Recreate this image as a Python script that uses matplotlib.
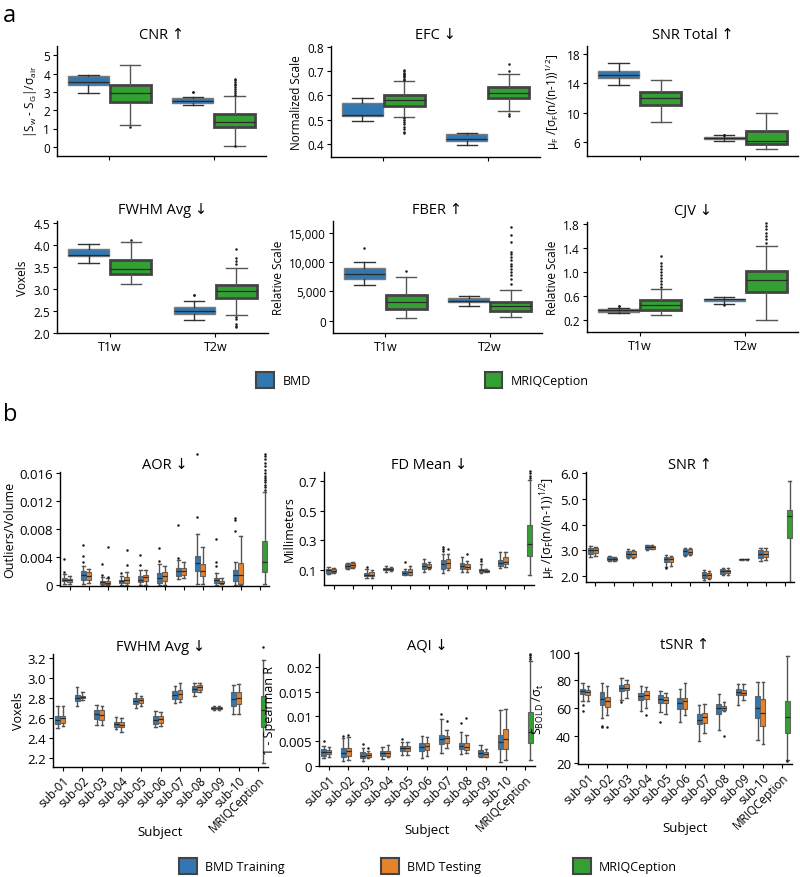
import matplotlib
matplotlib.use("Agg")
import matplotlib.pyplot as plt
from matplotlib.patches import Patch

plt.rcParams['font.family'] = ['Open Sans', 'DejaVu Sans']
plt.rcParams['mathtext.default'] = 'regular'
plt.rcParams['axes.linewidth'] = 1.0

BLUE = '#3178b2'
ORANGE = '#e5832d'
GREEN = '#34a034'

# ---------------- panel a data: [whislo, q1, median, q3, whishi] for T1w, T2w
seq = ['T1w', 'T2w']

cnr_bmd = [[2.93, 3.37, 3.52, 3.84, 3.91], [2.3, 2.39, 2.52, 2.65, 2.72]]
cnr_mriqc = [[1.21, 2.46, 2.92, 3.37, 4.47], [0.07, 1.07, 1.34, 1.79, 2.75]]
cnr_bmd_out = [[], [3.0, 3.0]]
cnr_mriqc_out = [[1.1], [2.85, 2.95, 3.05, 3.15, 3.25, 3.35, 3.45, 3.55, 3.65, 3.7, 0.02]]

efc_bmd = [[0.496, 0.513, 0.521, 0.569, 0.59], [0.396, 0.41, 0.418, 0.441, 0.445]]
efc_mriqc = [[0.51, 0.558, 0.583, 0.602, 0.659], [0.535, 0.589, 0.611, 0.634, 0.691]]
efc_bmd_out = [[], []]
efc_mriqc_out = [[0.665, 0.67, 0.675, 0.68, 0.685, 0.69, 0.695, 0.70, 0.707,
                  0.505, 0.50, 0.49, 0.48, 0.47, 0.46, 0.45, 0.445],
                 [0.731, 0.70, 0.525, 0.515]]

snrt_bmd = [[13.76, 14.67, 15.13, 15.63, 16.73], [6.1, 6.37, 6.5, 6.74, 6.9]]
snrt_mriqc = [[8.79, 11.07, 11.98, 12.76, 14.48], [5.0, 5.78, 6.14, 7.5, 9.97]]
snrt_bmd_out = [[], [6.95, 7.0]]
snrt_mriqc_out = [[], []]

fwhm_bmd = [[3.6, 3.75, 3.77, 3.91, 4.03], [2.28, 2.43, 2.5, 2.59, 2.72]]
fwhm_mriqc = [[3.1, 3.35, 3.45, 3.67, 4.06], [2.41, 2.78, 2.94, 3.08, 3.48]]
fwhm_bmd_out = [[], [2.86, 2.86]]
fwhm_mriqc_out = [[4.12], [3.56, 3.63, 3.7, 3.9, 2.35, 2.3, 2.2, 2.15, 2.12]]

fber_bmd = [[6114, 7143, 8000, 8971, 10000], [2571, 3143, 3428, 3828, 4285]]
fber_mriqc = [[400, 2000, 3143, 4457, 7428], [686, 1714, 2457, 3257, 5314]]
fber_bmd_out = [[12457], []]
fber_mriqc_out = [[8400], [6286, 7143, 7714, 8286, 8857, 9314, 9714, 10286,
                           10857, 11428, 11714, 13428, 14571, 16000]]

cjv_bmd = [[0.32, 0.338, 0.36, 0.388, 0.4], [0.47, 0.516, 0.543, 0.554, 0.588]]
cjv_mriqc = [[0.283, 0.366, 0.444, 0.53, 0.72], [0.194, 0.67, 0.859, 1.014, 1.43]]
cjv_bmd_out = [[0.44, 0.44], [0.45]]
cjv_mriqc_out = [[0.75, 0.8, 0.85, 0.9, 0.95, 1.0, 1.05, 1.1, 1.15, 1.26],
                 [1.48, 1.54, 1.6, 1.65, 1.71, 1.76, 1.82]]

# ---------------- panel b data: per subject [whislo, q1, median, q3, whishi]
subjects = ['sub-01', 'sub-02', 'sub-03', 'sub-04', 'sub-05', 'sub-06',
            'sub-07', 'sub-08', 'sub-09', 'sub-10', 'MRIQCeption']

aor_train = [[0.0002, 0.00058, 0.0008, 0.00105, 0.0016], [0.0002, 0.0008, 0.0015, 0.002, 0.0028],
             [0.0001, 0.00024, 0.00043, 0.00058, 0.0012], [0.0001, 0.00034, 0.00058, 0.0008, 0.0014],
             [0.0001, 0.00043, 0.0008, 0.0013, 0.0022], [0.0001, 0.0004, 0.001, 0.0018, 0.003],
             [0.0009, 0.0014, 0.002, 0.0025, 0.0036], [0.0002, 0.002, 0.0032, 0.0042, 0.0073],
             [0.0001, 0.00034, 0.0007, 0.00105, 0.0018], [0.0001, 0.0006, 0.0015, 0.0022, 0.0033]]
aor_test = [[0.0002, 0.00043, 0.0007, 0.0009, 0.0014], [0.0003, 0.0008, 0.0014, 0.0019, 0.0024],
            [0.0001, 0.0002, 0.0003, 0.00058, 0.001], [0.0001, 0.00034, 0.0008, 0.0012, 0.0019],
            [0.0001, 0.0006, 0.0012, 0.0015, 0.0022], [0.0001, 0.0006, 0.0013, 0.0019, 0.0028],
            [0.001, 0.0015, 0.002, 0.0025, 0.0033], [0.0002, 0.0013, 0.002, 0.003, 0.0055],
            [0.0002, 0.0003, 0.0004, 0.00058, 0.001], [0.0, 0.00024, 0.0015, 0.0032, 0.007]]
aor_mriqc = [0.00024, 0.0019, 0.0034, 0.0064, 0.0133]
aor_train_out = [[0.0019, 0.0038], [0.0033, 0.0042, 0.0058], [0.0015, 0.0031], [0.0017],
                 [0.0029, 0.0044], [0.0035, 0.0053], [0.0039, 0.0086], [0.0098, 0.0188],
                 [0.0027, 0.0033, 0.0066], [0.0078, 0.0094, 0.0096]]
aor_test_out = [[], [], [0.0012, 0.0055], [0.0029, 0.005], [], [], [], [], [], []]
aor_mriqc_out = [0.0136, 0.014, 0.0143, 0.0147, 0.015, 0.0153, 0.0156, 0.016,
                 0.0165, 0.017, 0.0175, 0.018, 0.0185, 0.0188]

fd_train = [[0.075, 0.082, 0.098, 0.109, 0.12], [0.11, 0.116, 0.127, 0.138, 0.15],
            [0.05, 0.059, 0.07, 0.082, 0.105], [0.09, 0.098, 0.105, 0.116, 0.125],
            [0.065, 0.07, 0.082, 0.093, 0.11], [0.09, 0.105, 0.127, 0.145, 0.175],
            [0.08, 0.109, 0.138, 0.168, 0.21], [0.085, 0.105, 0.127, 0.15, 0.19],
            [0.08, 0.086, 0.098, 0.105, 0.14], [0.115, 0.127, 0.145, 0.168, 0.22]]
fd_test = [[0.078, 0.085, 0.095, 0.105, 0.115], [0.115, 0.123, 0.134, 0.145, 0.155],
           [0.05, 0.059, 0.07, 0.086, 0.1], [0.092, 0.1, 0.106, 0.114, 0.122],
           [0.065, 0.07, 0.086, 0.105, 0.13], [0.105, 0.116, 0.123, 0.138, 0.155],
           [0.1, 0.116, 0.145, 0.177, 0.21], [0.09, 0.105, 0.123, 0.138, 0.16],
           [0.085, 0.09, 0.093, 0.1, 0.105], [0.12, 0.138, 0.155, 0.19, 0.22]]
fd_mriqc = [0.07, 0.195, 0.279, 0.404, 0.705]
fd_train_out = [[], [], [0.12], [], [0.155], [], [0.23, 0.245, 0.256], [], [0.16, 0.175], []]
fd_test_out = [[], [], [], [], [], [], [0.245], [0.21], [], []]
fd_mriqc_out = [0.72, 0.735, 0.75, 0.765]

snr_train = [[2.75, 2.87, 3.0, 3.09, 3.15], [2.58, 2.61, 2.67, 2.74, 2.76],
             [2.7, 2.74, 2.84, 2.96, 3.05], [3.03, 3.06, 3.13, 3.19, 3.2],
             [2.35, 2.54, 2.65, 2.74, 2.8], [2.78, 2.83, 2.96, 3.06, 3.1],
             [1.85, 1.92, 2.03, 2.16, 2.25], [2.05, 2.09, 2.18, 2.26, 2.3],
             [2.63, 2.64, 2.65, 2.66, 2.67], [2.6, 2.7, 2.87, 3.0, 3.1]]
snr_test = [[2.78, 2.9, 3.0, 3.09, 3.13], [2.6, 2.62, 2.67, 2.72, 2.75],
            [2.72, 2.74, 2.87, 2.96, 3.03], [3.05, 3.07, 3.12, 3.17, 3.2],
            [2.4, 2.56, 2.67, 2.74, 2.78], [2.8, 2.85, 2.95, 3.05, 3.08],
            [1.88, 1.92, 2.03, 2.12, 2.2], [2.06, 2.1, 2.18, 2.25, 2.3],
            [2.64, 2.645, 2.65, 2.655, 2.66], [2.62, 2.74, 2.87, 2.97, 3.08]]
snr_mriqc = [1.77, 3.47, 4.33, 4.57, 5.71]
snr_train_out = [[], [], [], [], [2.3], [], [], [], [], []]
snr_test_out = [[] for _ in range(10)]
snr_mriqc_out = []

fwhmb_train = [[2.5, 2.54, 2.585, 2.62, 2.72], [2.72, 2.77, 2.8, 2.83, 2.91],
               [2.53, 2.59, 2.64, 2.68, 2.73], [2.49, 2.51, 2.54, 2.565, 2.61],
               [2.7, 2.74, 2.77, 2.8, 2.85], [2.51, 2.54, 2.585, 2.62, 2.67],
               [2.75, 2.79, 2.83, 2.87, 2.92], [2.82, 2.855, 2.89, 2.92, 2.95],
               [2.68, 2.685, 2.7, 2.71, 2.72], [2.64, 2.72, 2.79, 2.86, 2.93]]
fwhmb_test = [[2.52, 2.55, 2.6, 2.62, 2.72], [2.78, 2.8, 2.805, 2.82, 2.86],
              [2.53, 2.585, 2.63, 2.68, 2.72], [2.46, 2.51, 2.535, 2.56, 2.6],
              [2.72, 2.75, 2.78, 2.8, 2.82], [2.52, 2.55, 2.59, 2.62, 2.66],
              [2.76, 2.79, 2.84, 2.88, 2.95], [2.86, 2.88, 2.91, 2.93, 2.95],
              [2.68, 2.69, 2.7, 2.71, 2.72], [2.64, 2.74, 2.795, 2.855, 2.94]]
fwhmb_mriqc = [2.15, 2.51, 2.68, 2.815, 3.18]
fwhmb_train_out = [[] for _ in range(10)]
fwhmb_test_out = [[] for _ in range(10)]
fwhmb_mriqc_out = [3.3]

aqi_train = [[0.0016, 0.002, 0.0027, 0.0033, 0.004], [0.001, 0.0018, 0.0026, 0.0036, 0.0055],
             [0.001, 0.0016, 0.002, 0.0027, 0.0035], [0.0014, 0.0019, 0.0025, 0.0029, 0.0038],
             [0.0022, 0.0029, 0.0035, 0.004, 0.0047], [0.0016, 0.0029, 0.0038, 0.0046, 0.0061],
             [0.0025, 0.0043, 0.0053, 0.0063, 0.0095], [0.0024, 0.0033, 0.004, 0.0046, 0.0069],
             [0.0017, 0.0019, 0.0025, 0.0031, 0.0042], [0.0008, 0.0034, 0.0048, 0.0063, 0.0113]]
aqi_test = [[0.0018, 0.0023, 0.0027, 0.0031, 0.0037], [0.0012, 0.002, 0.0029, 0.0036, 0.0058],
            [0.0015, 0.0018, 0.0021, 0.0025, 0.003], [0.0018, 0.002, 0.0026, 0.0029, 0.0042],
            [0.0021, 0.0029, 0.0035, 0.004, 0.0048], [0.002, 0.0031, 0.004, 0.0046, 0.0058],
            [0.0035, 0.0046, 0.0055, 0.0061, 0.0072], [0.0025, 0.0031, 0.0038, 0.0045, 0.0063],
            [0.0017, 0.0018, 0.0023, 0.0027, 0.0033], [0.0012, 0.0033, 0.0053, 0.0074, 0.0115]]
aqi_mriqc = [0.0011, 0.0045, 0.0068, 0.0109, 0.0213]
aqi_train_out = [[0.005], [0.006], [0.0044], [], [0.0053], [], [0.0104], [0.0087], [], []]
aqi_test_out = [[], [0.0063], [0.0036], [], [], [], [0.009], [0.0096], [], []]
aqi_mriqc_out = [0.0217, 0.022, 0.0224, 0.0228]

tsnr_train = [[65, 70, 72.3, 74, 78.3], [53, 62, 66.3, 71.6, 77.8], [66, 72.3, 74.7, 76.4, 82],
              [58, 65.8, 68.7, 70.6, 76], [57, 63.9, 66.8, 69.2, 72], [50, 59.1, 63.4, 67.5, 74],
              [36, 48.3, 51.4, 55.5, 62.5], [44, 55.5, 59.8, 62.7, 70], [62, 69.2, 71.6, 73.5, 77],
              [37, 53.1, 59.8, 68.7, 79]]
tsnr_test = [[65, 69.2, 71.6, 73, 76], [55, 61, 65, 68.2, 76], [67, 72.8, 74.7, 77.1, 80],
             [60, 66.3, 69.2, 72.3, 75], [56, 63.4, 65.8, 68, 71], [55, 59.6, 65.1, 67.5, 78],
             [42, 49.5, 53.8, 56.7, 63], [58, 58.6, 59.8, 61.5, 64], [66, 69.2, 71.1, 73, 77],
             [34, 47.1, 56.7, 66.8, 78.6]]
tsnr_mriqc = [22.6, 41.8, 53.8, 65.1, 97.5]
tsnr_train_out = [[62, 58], [47, 46], [64], [], [50], [], [], [], [], []]
tsnr_test_out = [[], [46], [], [55], [], [], [], [40], [], []]
tsnr_mriqc_out = [22]


def stats(fives, outs):
    return [dict(whislo=f[0], q1=f[1], med=f[2], q3=f[3], whishi=f[4], fliers=o)
            for f, o in zip(fives, outs)]


def boxes(ax, fives, outs, pos, color, width, edge, lw, wcol):
    ax.bxp(stats(fives, outs), positions=pos, widths=width, patch_artist=True,
           manage_ticks=False,
           boxprops=dict(facecolor=color, edgecolor=edge, linewidth=lw),
           medianprops=dict(color='#2a2a2a', linewidth=0.9),
           whiskerprops=dict(color=wcol, linewidth=1.0),
           capprops=dict(color=wcol, linewidth=1.0),
           flierprops=dict(marker='o', markersize=1.8, markerfacecolor='#1a1a1a',
                           markeredgecolor='none', clip_on=False))


def style(ax, size):
    for s in ['top', 'right']:
        ax.spines[s].set_visible(False)
    ax.tick_params(labelsize=size, length=3, width=0.8, pad=2)


W, H = 800, 878


def axes_px(fig, left, top, right, bottom):
    return fig.add_axes([left / W, 1 - bottom / H, (right - left) / W, (bottom - top) / H])


fig = plt.figure(figsize=(8, 8.78), dpi=100)

# ---------------- panel a
panel_a = [
    ((57, 47, 266, 157), 'CNR ↑', r'|S$_w$ - S$_G$|/$\sigma_{air}$', (-0.5, 5.5),
     [0, 1, 2, 3, 4, 5], ['0', '1', '2', '3', '4', '5'],
     cnr_bmd, cnr_mriqc, cnr_bmd_out, cnr_mriqc_out, False),
    ((331, 47, 540, 158), 'EFC ↓', 'Normalized Scale', (0.345, 0.805),
     [0.4, 0.5, 0.6, 0.7, 0.8], ['0.4', '0.5', '0.6', '0.7', '0.8'],
     efc_bmd, efc_mriqc, efc_bmd_out, efc_mriqc_out, False),
    ((587, 47, 798, 157), 'SNR Total ↑', r'$\mu_F$ /[$\sigma_F$(n/(n-1))$^{1/2}$]', (4.1, 19.1),
     [6, 10, 14, 18], ['6', '10', '14', '18'],
     snrt_bmd, snrt_mriqc, snrt_bmd_out, snrt_mriqc_out, False),
    ((57, 222, 268, 334), 'FWHM Avg ↓', 'Voxels', (1.99, 4.55),
     [2.0, 2.5, 3.0, 3.5, 4.0, 4.5], ['2.0', '2.5', '3.0', '3.5', '4.0', '4.5'],
     fwhm_bmd, fwhm_mriqc, fwhm_bmd_out, fwhm_mriqc_out, True),
    ((333, 222, 542, 334), 'FBER ↑', 'Relative Scale', (-2100, 17000),
     [0, 5000, 10000, 15000], ['0', '5,000', '10,000', '15,000'],
     fber_bmd, fber_mriqc, fber_bmd_out, fber_mriqc_out, True),
    ((587, 223, 798, 333), 'CJV ↓', 'Relative Scale', (0.0, 1.83),
     [0.2, 0.6, 1.0, 1.4, 1.8], ['0.2', '0.6', '1.0', '1.4', '1.8'],
     cjv_bmd, cjv_mriqc, cjv_bmd_out, cjv_mriqc_out, True),
]

for (box, title, ylab, ylim, yt, ytl, bmd, mrq, bmd_o, mrq_o, xl) in panel_a:
    ax = axes_px(fig, *box)
    style(ax, 8.5)
    x = range(len(seq))
    boxes(ax, bmd, bmd_o, [i - 0.2 for i in x], BLUE, 0.39, '#7a7a7a', 1.0, '#333333')
    boxes(ax, mrq, mrq_o, [i + 0.2 for i in x], GREEN, 0.39, '#444444', 2.0, '#555555')
    ax.set_xlim(-0.5, 1.5)
    ax.set_ylim(*ylim)
    ax.set_yticks(yt)
    ax.set_yticklabels(ytl)
    ax.set_xticks(list(x))
    ax.set_xticklabels(seq if xl else [], fontsize=9)
    ax.set_title(title, fontsize=10.5, pad=6)
    ax.set_ylabel(ylab, fontsize=8.5, labelpad=3)

# ---------------- panel b
panel_b = [
    ((60, 473, 269, 587), 'AOR ↓', 'Outliers/Volume', (-0.0001, 0.0162),
     [0, 0.004, 0.008, 0.012, 0.016], ['0', '0.004', '0.008', '0.012', '0.016'],
     aor_train, aor_test, aor_mriqc, aor_train_out, aor_test_out, aor_mriqc_out, False),
    ((324, 473, 534, 586), 'FD Mean ↓', 'Millimeters', (0.0, 0.76),
     [0.1, 0.3, 0.5, 0.7], ['0.1', '0.3', '0.5', '0.7'],
     fd_train, fd_test, fd_mriqc, fd_train_out, fd_test_out, fd_mriqc_out, False),
    ((586, 473, 794, 583), 'SNR ↑', r'$\mu_F$ /[$\sigma_F$(n/(n-1))$^{1/2}$]', (1.77, 6.04),
     [2, 3, 4, 5, 6], ['2.0', '3.0', '4.0', '5.0', '6.0'],
     snr_train, snr_test, snr_mriqc, snr_train_out, snr_test_out, snr_mriqc_out, False),
    ((53, 655, 268, 768), 'FWHM Avg ↓', 'Voxels', (2.115, 3.235),
     [2.2, 2.4, 2.6, 2.8, 3.0, 3.2], ['2.2', '2.4', '2.6', '2.8', '3.0', '3.2'],
     fwhmb_train, fwhmb_test, fwhmb_mriqc, fwhmb_train_out, fwhmb_test_out, fwhmb_mriqc_out, True),
    ((319, 655, 535, 767), 'AQI ↓', '1 - Spearman R', (-0.0001, 0.0227),
     [0, 0.005, 0.01, 0.015, 0.02], ['0', '0.005', '0.01', '0.015', '0.02'],
     aqi_train, aqi_test, aqi_mriqc, aqi_train_out, aqi_test_out, aqi_mriqc_out, True),
    ((578, 653, 792, 765), 'tSNR ↑', r'S$_{BOLD}$ /$\sigma_t$', (19.5, 100.5),
     [20, 40, 60, 80, 100], ['20', '40', '60', '80', '100'],
     tsnr_train, tsnr_test, tsnr_mriqc, tsnr_train_out, tsnr_test_out, tsnr_mriqc_out, True),
]

off = 0.8 / 3
for (box, title, ylab, ylim, yt, ytl, tr, te, mq, tr_o, te_o, mq_o, xl) in panel_b:
    ax = axes_px(fig, *box)
    style(ax, 9.5)
    n = len(tr)
    boxes(ax, tr, tr_o, [i - off for i in range(n)], BLUE, 0.25, '#666666', 0.8, '#555555')
    boxes(ax, te, te_o, list(range(n)), ORANGE, 0.25, '#666666', 0.8, '#555555')
    boxes(ax, [mq], [mq_o], [n + off], GREEN, 0.25, '#666666', 0.8, '#555555')
    ax.set_xlim(-0.5, len(subjects) - 0.5)
    ax.set_ylim(*ylim)
    ax.set_yticks(yt)
    ax.set_yticklabels(ytl)
    ax.set_xticks(range(len(subjects)))
    if xl:
        ax.set_xticklabels(subjects, rotation=45, ha='right', rotation_mode='anchor', fontsize=8.5)
        ax.set_xlabel('Subject', fontsize=9.5)
        ax.xaxis.set_label_coords(0.5, -0.51)
    else:
        ax.set_xticklabels([])
    ax.set_title(title, fontsize=10.5, pad=2)
    ax.set_ylabel(ylab, fontsize=9, labelpad=2)

# ---------------- legends and panel letters
legend_a = [('BMD', BLUE, 256), ('MRIQCeption', GREEN, 485)]
legend_b = [('BMD Training', BLUE, 179), ('BMD Testing', ORANGE, 381), ('MRIQCeption', GREEN, 573)]
for items, yc in [(legend_a, 381), (legend_b, 867)]:
    for lab, col, xl in items:
        h = Patch(facecolor=col, edgecolor='#444444', linewidth=1.5, label=lab)
        fig.legend(handles=[h], loc='center left', bbox_to_anchor=(xl / W, 1 - yc / H),
                   frameon=False, fontsize=9, handlelength=1.4, handleheight=1.5,
                   borderpad=0, borderaxespad=0, handletextpad=0.7)

fig.text(3 / W, 1 - 16 / H, 'a', fontsize=17, va='center')
fig.text(3 / W, 1 - 415 / H, 'b', fontsize=17, va='center')

fig.savefig('out.png', dpi=100)
